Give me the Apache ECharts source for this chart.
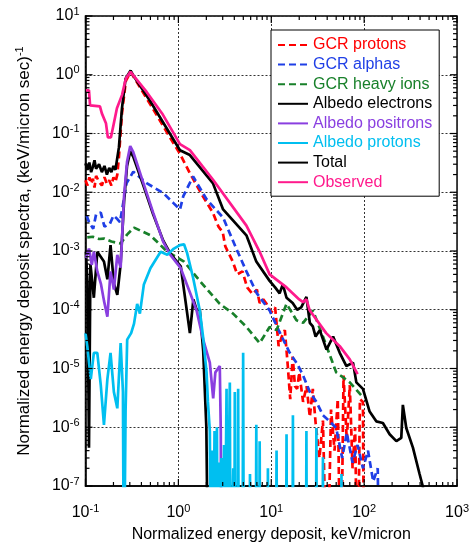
<!DOCTYPE html>
<html><head><meta charset="utf-8">
<script src="https://cdn.jsdelivr.net/npm/echarts@6/dist/echarts.min.js"></script>
<style>html,body{margin:0;padding:0;background:#fff}#c{width:472px;height:548px}</style>
</head><body><div id="c"></div>
<script>
// ---- axis ranges / labels ----
const X_MIN = 0.1, X_MAX = 1000, Y_MIN = 1e-7, Y_MAX = 10;
const xTitle = 'Normalized energy deposit, keV/micron';
const yTitle = 'Normalized energy deposit spectra, (keV/micron sec)';
const yTitleSup = '-1';
const seriesNames = ['GCR protons','GCR alphas','GCR heavy ions','Albedo electrons','Albedo positrons','Albedo protons','Total','Observed'];

// ---- data ----
const protonsX = [0.1,0.105,0.11,0.115,0.12,0.125,0.13,0.14,0.15,0.16,0.17,0.18,0.19,0.2,0.21,0.22,0.229,0.247,0.272,0.306,0.5,0.81,1.04,1.33,1.83,2.35,2.7,3.0,3.2,3.5,3.85,4.3,4.9,5.5,6.3,7.0,7.5,8.2,8.9,10,11,12,13,14,15,16,17,18,19,20,22,24,26,28,30,33,36,40,44,48,52,56,60,65,70,75,80,85,90,97,100];
const protonsY = [0.016,0.013,0.018,0.014,0.017,0.012,0.019,0.015,0.013,0.018,0.014,0.016,0.013,0.018,0.015,0.02,0.04,0.22,0.79,1.12,0.31,0.086,0.045,0.021,8.6e-3,4.5e-3,2.6e-3,2.1e-3,1.2e-3,9e-4,6.6e-4,4e-4,4.5e-4,2.4e-4,1.85e-4,2.2e-4,1.3e-4,1.5e-4,1.26e-4,9e-5,1.1e-4,2.4e-5,3.5e-5,4.5e-5,1.2e-5,3e-6,1.6e-5,5e-6,4.5e-6,8.6e-6,2.7e-6,5e-6,1.5e-6,4.5e-6,1.2e-6,3e-7,1.3e-6,1e-9,2e-6,4e-7,3e-6,1e-9,7.6e-6,6e-7,5.2e-6,2e-7,1e-6,1e-9,3e-6,2.7e-6,1e-9];

const alphasX = [0.103,0.11,0.121,0.13,0.146,0.16,0.183,0.2,0.22,0.235,0.277,0.327,0.455,0.687,0.88,1.04,1.13,1.44,2.01,3.03,4.2,5.4,7.0,9.6,12,15.8,19,22,26,30.6,36,42.6,50,58,65,75,85,97,110,125,140,147];
const alphasY = [4.0e-3,3.0e-3,2.4e-3,4.2e-3,4.5e-3,2.6e-3,2.9e-3,4.0e-3,3.5e-3,3.1e-3,0.0143,0.0224,0.0143,9.7e-3,6.6e-3,5.1e-3,8.6e-3,0.0185,7.6e-3,3.7e-3,1.1e-3,4.5e-4,1.9e-4,9.7e-5,4.5e-5,1.85e-5,1.2e-5,7.6e-6,4e-6,2.7e-6,1.6e-6,1.26e-6,9.7e-7,3e-7,8e-7,2.5e-7,5e-7,2e-7,4e-7,1.2e-7,2e-7,1e-9];

const heavyX = [0.1045,0.12,0.14,0.158,0.19,0.239,0.28,0.333,0.5,0.76,1.15,1.7,2.79,3.88,5.4,7.5,9.6,11.4,14.6,18.7,22,28.1,36,50,70,96];
const heavyY = [1.7e-3,1.75e-3,1.6e-3,1.63e-3,1.45e-3,1.34e-3,1.9e-3,2.5e-3,1.85e-3,9.7e-4,6.6e-4,3.1e-4,1.26e-4,8.6e-5,5.1e-5,2.7e-5,5.1e-5,4.5e-5,1.26e-4,6.6e-5,6e-5,9.7e-5,3.5e-5,8.6e-6,5.8e-6,3.3e-6];

const electronsX = [0.101,0.105,0.109,0.113,0.123,0.134,0.158,0.172,0.186,0.202,0.22,0.239,0.26,0.28,0.303,0.327,0.42,0.535,0.687,0.82,1.06,1.33,1.45,1.57,1.7,1.85,2.0,2.1];
const electronsY = [9.7e-4,3e-4,4.5e-7,6e-4,1.6e-4,9.7e-4,6.6e-4,3.3e-4,1.26e-3,2.8e-4,1.8e-4,6e-4,7e-3,0.028,0.05,0.04,0.013,4.2e-3,1.5e-3,9e-4,5.5e-4,4e-5,1.5e-4,1e-4,1e-4,2e-5,1e-6,1e-9];

const positronsX = [0.101,0.109,0.117,0.123,0.134,0.147,0.158,0.172,0.186,0.202,0.22,0.239,0.26,0.28,0.303,0.327,0.42,0.535,0.687,0.82,1.06,1.35,1.57,1.85,2.18,2.37,2.5,2.79,2.86,2.9];
const positronsY = [7.6e-4,1.1e-3,5.8e-4,9.7e-4,4.5e-4,2.7e-4,1.43e-4,7.6e-5,4.5e-4,2.2e-4,8.6e-4,5.2e-4,8.6e-3,0.033,0.061,0.048,0.0143,4.5e-3,1.43e-3,8.6e-4,5.1e-4,1.85e-4,9.7e-5,3.1e-5,1.26e-5,3.1e-6,8.6e-6,1.1e-5,8.6e-7,1e-9];

const albProtonsX = [0.1,0.1045,0.114,0.123,0.134,0.146,0.158,0.172,0.186,0.202,0.22,0.239,0.253,0.259,0.265,0.27,0.281,0.31,0.333,0.36,0.385,0.425,0.5,0.644,0.76,0.895,1.04,1.15,1.24,1.44,1.7,1.85,2.01,2.08,2.18,2.25,2.3,2.36,2.42,2.45,2.5,2.56,2.6,2.65,2.72,2.75,2.8,2.86,2.9,2.95,3.05,3.1,3.15,3.25,3.3,3.35,3.52,3.58,3.64,3.8,3.9,4.0,4.05,4.1,4.33,4.4,4.47,4.9,4.98,5.06,5.8,5.9,6.0,6.8,6.9,7.0,7.4,7.5,7.6,9.1,9.2,9.3,11.2,11.4,11.6,14.4,14.6,14.8,16.9,17.1,17.3,23.6,23.9,24.2,30.2,30.6,31,35.6,36,36.4,56.5,57,57.5];
const albProtonsY = [4.0e-5,2.4e-5,6.6e-6,1.85e-5,1.85e-5,5.2e-6,1.1e-6,6.6e-6,1.85e-5,4.0e-6,2.1e-6,2.7e-5,4e-6,1e-9,1e-9,1.85e-6,3.1e-5,4e-5,5.8e-5,1.26e-4,8.6e-5,2.7e-4,5.1e-4,9.7e-4,8.6e-4,1.1e-3,1.26e-3,1.3e-3,9.3e-4,3.5e-4,9.7e-5,3.3e-5,8.6e-6,2.7e-6,8.6e-7,1e-9,4e-7,1e-9,1e-9,8.6e-7,1e-9,1e-9,1e-6,1e-9,1e-9,2.5e-7,1e-9,1e-9,3e-7,1e-9,1e-9,5e-7,1e-9,1e-9,4.5e-6,1e-9,1e-9,5.8e-6,1e-9,1e-9,2e-7,1e-9,4e-6,1e-9,1e-9,4.5e-6,1e-9,1e-9,1.85e-5,1e-9,1e-9,1.6e-7,1e-9,1e-9,1.1e-6,1e-9,1e-9,5.8e-7,1e-9,1e-9,2e-7,1e-9,1e-9,4e-7,1e-9,1e-9,7.6e-7,1e-9,1e-9,1.6e-6,1e-9,1e-9,8.6e-7,1e-9,1e-9,9.7e-7,1e-9,1e-9,3.1e-7,1e-9,1e-9,1.6e-7,1e-9];

const totalX = [0.1,0.105,0.11,0.115,0.12,0.125,0.13,0.14,0.15,0.16,0.17,0.18,0.19,0.2,0.21,0.22,0.229,0.247,0.27,0.306,0.33,0.5,1.04,1.33,2.35,3.03,5.4,6.9,9.6,11,12.3,13.3,14.6,17,19,21,23.9,26,28,30,33.3,39.3,46.3,54.6,64.4,75.9,82.4,97,114.5,135,159,188,222,251,261,284,335,395,429,460];
const totalY = [0.031,0.024,0.032,0.022,0.027,0.035,0.025,0.03,0.022,0.028,0.02,0.026,0.022,0.028,0.024,0.024,0.058,0.27,0.86,1.18,0.95,0.35,0.052,0.043,0.0143,5.1e-3,1.85e-3,6.6e-4,3.1e-4,2.4e-4,1.9e-4,2.7e-4,1.6e-4,1.3e-4,1.0e-4,1.1e-4,1.65e-4,6e-5,5.2e-5,3.5e-5,4.5e-5,2.1e-5,3.5e-5,1.85e-5,1.1e-5,1.26e-5,5.8e-6,4.5e-6,1.85e-6,1.26e-6,1.18e-6,7.6e-7,5.8e-7,6.6e-7,2.4e-6,9.7e-7,4.5e-7,1.6e-7,9.7e-8,1e-9];

const observedX = [0.101,0.109,0.112,0.143,0.15,0.166,0.174,0.188,0.202,0.218,0.247,0.272,0.305,0.33,0.455,0.68,1.04,1.33,2.35,5.4,7.5,9.6,14.6,20,22,23.9,25.9,39,54.6,70,85];
const observedY = [0.54,0.54,0.30,0.29,0.22,0.15,0.086,0.086,0.15,0.27,0.45,0.86,1.12,0.96,0.51,0.21,0.066,0.052,0.0165,2.7e-3,9.7e-4,4.0e-4,2.4e-4,1.5e-4,1.35e-4,1.5e-4,9.8e-5,4.0e-5,2.4e-5,1.43e-5,8.0e-6];

// ---- styling ----
const FONT = 'Liberation Sans, Arial, sans-serif';
const colors = {p:'#ff0000', a:'#1f3fe6', h:'#18802a', e:'#000000', pos:'#8a3fe0', ap:'#00bff0', t:'#000000', o:'#ff1a8c'};
const DASH = [7,4];
const zip = (xs, ys) => xs.map((x, i) => [x, ys[i]]);

// minor/major tick positions (axis decoration)
const xTickVals = []; for (let d = -1; d <= 2; d++) for (let k = 1; k <= 9; k++) xTickVals.push(k * Math.pow(10, d)); xTickVals.push(1000);
const yTickVals = []; for (let d = -7; d <= 0; d++) for (let k = 1; k <= 9; k++) yTickVals.push(k * Math.pow(10, d)); yTickVals.push(10);
function isMajor(v){ const l = Math.log10(v); return Math.abs(l - Math.round(l)) < 1e-9; }

function lineSeries(name, xs, ys, color, dashed, z){
  return {name, type:'line', data: zip(xs, ys), showSymbol:false, symbol:'none', clip:true, z,
    lineStyle:{color, width:2.7, type: dashed ? DASH : 'solid'}, itemStyle:{color}, animation:false};
}

const chart = echarts.init(document.getElementById('c'), null, {renderer:'canvas'});
const supLabel = v => { const e = Math.round(Math.log10(v)); return '{b|10}{s|' + e + '}'; };
const labelRich = {b:{fontSize:16, fontFamily:FONT, color:'#000'}, s:{fontSize:11, fontFamily:FONT, color:'#000', padding:[0,0,9,0]}};

chart.setOption({
  animation:false,
  backgroundColor:'#fff',
  grid:{left:85.5, right:14.5, top:16, bottom:53, show:true, borderColor:'#000', borderWidth:1.5, backgroundColor:'transparent'},
  xAxis:{type:'log', logBase:10, min:X_MIN, max:X_MAX,
    name:xTitle, nameLocation:'middle', nameGap:41,
    nameTextStyle:{fontSize:16, fontFamily:FONT, color:'#000'},
    axisLine:{lineStyle:{color:'#000', width:1.5}},
    axisTick:{show:false}, minorTick:{show:false},
    axisLabel:{formatter:supLabel, rich:labelRich, margin:17},
    splitLine:{show:true, lineStyle:{color:'#333', width:1, type:[2,2]}}
  },
  yAxis:{type:'log', logBase:10, min:Y_MIN, max:Y_MAX,
    name:'{t|' + yTitle + '}{s|' + yTitleSup + '}', nameLocation:'middle', nameGap:52,
    nameTextStyle:{rich:{t:{fontSize:17, fontFamily:FONT, color:'#000'}, s:{fontSize:11, fontFamily:FONT, color:'#000', padding:[0,0,8,0]}}},
    axisLine:{lineStyle:{color:'#000', width:1.5}},
    axisTick:{show:false}, minorTick:{show:false},
    axisLabel:{formatter:supLabel, rich:labelRich, margin:6},
    splitLine:{show:true, lineStyle:{color:'#333', width:1, type:[2,2]}}
  },
  legend:{
    orient:'vertical', left:271, top:30,
    backgroundColor:'#fff', borderColor:'#000', borderWidth:1,
    padding:[7,7,6,6], itemWidth:30, itemHeight:14, itemGap:3.6,
    itemStyle:{opacity:0},
    textStyle:{fontSize:16, fontFamily:FONT, lineHeight:16},
    data: seriesNames.map((n, i) => ({name:n, textStyle:{color:[colors.p,colors.a,colors.h,colors.e,colors.pos,colors.ap,colors.t,colors.o][i]}}))
  },
  series:[
    lineSeries(seriesNames[0], protonsX, protonsY, colors.p, true, 2),
    lineSeries(seriesNames[1], alphasX, alphasY, colors.a, true, 3),
    lineSeries(seriesNames[2], heavyX, heavyY, colors.h, true, 4),
    lineSeries(seriesNames[3], electronsX, electronsY, colors.e, false, 5),
    lineSeries(seriesNames[4], positronsX, positronsY, colors.pos, false, 6),
    lineSeries(seriesNames[5], albProtonsX, albProtonsY, colors.ap, false, 7),
    lineSeries(seriesNames[6], totalX, totalY, colors.t, false, 8),
    lineSeries(seriesNames[7], observedX, observedY, colors.o, false, 9),
    {type:'custom', name:'xticks', data: xTickVals.map(v => [v, 1]), encode:{x:0, y:1}, z:10, silent:true,
      renderItem:(params, api) => {
        const v = api.value(0); const len = isMajor(v) ? 7 : 4;
        const b = api.coord([v, Y_MIN]), t = api.coord([v, Y_MAX]);
        return {type:'group', children:[
          {type:'line', shape:{x1:b[0], y1:b[1], x2:b[0], y2:b[1]-len}, style:{stroke:'#000', lineWidth:1.2}},
          {type:'line', shape:{x1:t[0], y1:t[1], x2:t[0], y2:t[1]+len}, style:{stroke:'#000', lineWidth:1.2}}
        ]};
      }},
    {type:'custom', name:'yticks', data: yTickVals.map(v => [1, v]), encode:{x:0, y:1}, z:10, silent:true,
      renderItem:(params, api) => {
        const v = api.value(1); const len = isMajor(v) ? 7 : 4;
        const l = api.coord([X_MIN, v]), r = api.coord([X_MAX, v]);
        return {type:'group', children:[
          {type:'line', shape:{x1:l[0], y1:l[1], x2:l[0]+len, y2:l[1]}, style:{stroke:'#000', lineWidth:1.2}},
          {type:'line', shape:{x1:r[0], y1:r[1], x2:r[0]-len, y2:r[1]}, style:{stroke:'#000', lineWidth:1.2}}
        ]};
      }}
  ]
});
</script></body></html>
